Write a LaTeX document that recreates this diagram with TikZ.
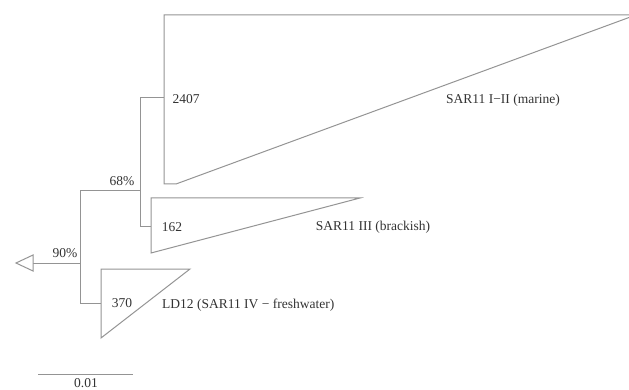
\documentclass[tikz,border=0pt]{standalone}
\usepackage{fontspec}
\setmainfont{Liberation Serif}
\begin{document}
\begin{tikzpicture}[x=1pt,y=-1pt,
  br/.style={draw=black!42,line width=1pt,line join=miter},
  lbl/.style={text=black!80,inner sep=0pt,font=\fontsize{13.5}{15}\selectfont}]
\useasboundingbox (0,0) rectangle (629,390);
% named coordinates
\coordinate (root) at (80,263);
\coordinate (rootTop) at (80,191);
\coordinate (rootBot) at (80,303);
\coordinate (tail) at (33,263);
\coordinate (n68) at (140,191);
\coordinate (n68top) at (140,98);
\coordinate (n68bot) at (140,227);
\coordinate (c1) at (164,98);
\coordinate (c2) at (151,227);
\coordinate (c3) at (101,303);
% top clade triangle
\draw[br] (629,17.5) -- (176,184) -- (164,184) -- (164,15) -- (629,15);
% SAR11 III triangle
\draw[br] (151,198) -- (360,198) -- (151,253) -- cycle;
% LD12 triangle
\draw[br] (101,269) -- (190,269) -- (101,338) -- cycle;
% branches
\draw[br] (c1) -- (n68top) -- (n68bot) -- (c2);
\draw[br] (n68) -- (rootTop) -- (rootBot) -- (c3);
\draw[br] (root) -- (tail);
% root arrow (open triangle)
\draw[br,fill=white] (33,255) -- (16,263) -- (33,271) -- cycle;
% labels
\node[lbl] (l90) at (65,253) {90\%};
\node[lbl] (l68) at (122,181) {68\%};
\node[lbl] (l2407) at (186,99) {2407};
\node[lbl] (l162) at (172,227) {162};
\node[lbl] (l370) at (122,303) {370};
\node[lbl] (nm1) at (503,100) {SAR11 I\textminus II (marine)};
\node[lbl] (nm2) at (373,227) {SAR11 III (brackish)};
\node[lbl,anchor=west] (nm3) at (162,305) {LD12 (SAR11 IV \textminus{} freshwater)};
% scale bar
\coordinate (sb1) at (38,374);
\coordinate (sb2) at (133,374);
\draw[br] (sb1) -- (sb2);
\node[lbl,anchor=north] (sbl) at (86,378) {0.01};
\end{tikzpicture}
\end{document}
